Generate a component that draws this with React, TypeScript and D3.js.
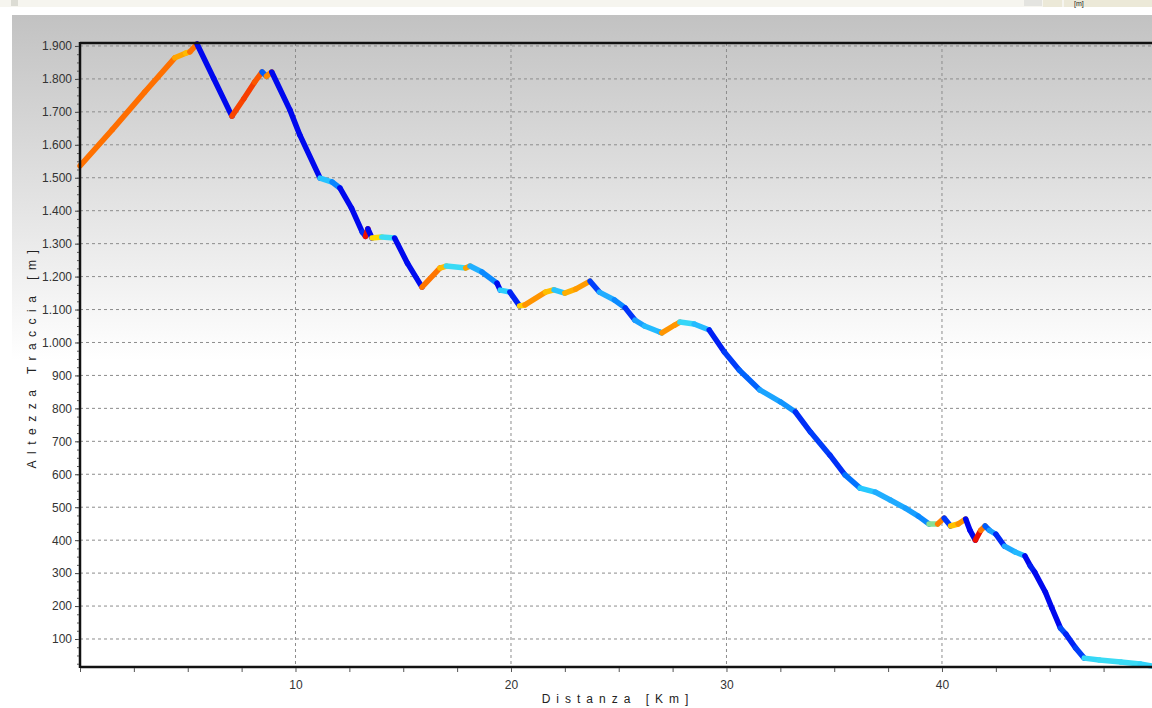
import React, { useEffect, useRef } from 'react';
import * as d3 from 'd3';

// track profile
const distKm = [0, 1.5, 3, 4.4, 4.9, 5.1, 5.43, 6.2, 7.05, 7.6, 8.1, 8.45, 8.65, 8.9, 9.74, 10.2, 11.14, 11.7, 12.06, 12.6, 13.1, 13.25, 13.36, 13.55, 14.0, 14.6, 15.2, 15.87, 16.7, 17.0, 17.9, 18.1, 18.65, 19.35, 19.5, 19.95, 20.4, 20.65, 21.6, 22.0, 22.5, 23.0, 23.67, 24.1, 24.8, 25.3, 25.75, 26.2, 26.9, 27.0, 27.6, 27.84, 28.5, 29.2, 29.9, 30.6, 31.55, 32.5, 33.2, 33.9, 34.8, 35.5, 36.2, 36.9, 37.6, 38.3, 38.9, 39.4, 39.8, 40.1, 40.4, 40.75, 41.1, 41.3, 41.55, 41.8, 42.0, 42.2, 42.5, 42.9, 43.4, 43.85, 44.1, 44.3, 44.8, 45.1, 45.5, 45.75, 46.2, 46.6, 47.3, 48.3, 49.2, 49.75];
const altM = [1536, 1646, 1760, 1864, 1878, 1882, 1906, 1802, 1687, 1740, 1790, 1821, 1808, 1821, 1706, 1630, 1499, 1487, 1469, 1408, 1335, 1322, 1345, 1317, 1320, 1317, 1240, 1168, 1226, 1232, 1226, 1232, 1214, 1180, 1159, 1153, 1111, 1114, 1153, 1160, 1150, 1162, 1186, 1153, 1129, 1105, 1068, 1050, 1032, 1029, 1053, 1062, 1056, 1038, 971, 916, 856, 820, 789, 728, 658, 598, 558, 546, 522, 497, 473, 449, 449, 467, 443, 449, 464, 430, 400, 430, 443, 430, 418, 382, 364, 352, 322, 303, 242, 194, 133, 115, 73, 42, 36, 30, 24, 18];

const xTickLabels = [10, 20, 30, 40];
const yTickValues = d3.range(100, 2000, 100);

// slope (%) -> colour, like the jet-ish scale of the original program
const slopeStops = [-11, -8, -5.5, -3.5, -1.5, -0.3, 0.5, 3, 8, 12];
const slopeColors = ['#0008ee', '#0038fa', '#0078ff', '#20acff', '#28ccff', '#40e0f0', '#ffe000', '#ffa000', '#ff6a00', '#ee1000'];

const W = 1152;
const H = 708;
const left = 80;
const top = 43;
const right = 1151;
const bottom = 667;
const font = 'Liberation Sans, Arial, sans-serif';

const fmt = (v: number) => d3.format(',')(v).replace(/,/g, '.');

const App = () => {
  const ref = useRef<SVGSVGElement>(null);

  useEffect(() => {
    const svg = d3.select(ref.current);
    svg.selectAll('*').remove();

    const x = d3.scaleLinear().domain([0, 49.7]).range([left, right]);
    const y = d3.scaleLinear().domain([15, 1909]).range([bottom, top]);
    const color = d3.scaleLinear<string>().domain(slopeStops).range(slopeColors).clamp(true);

    // background gradient grey -> white
    const defs = svg.append('defs');
    const grad = defs.append('linearGradient')
      .attr('id', 'bg')
      .attr('gradientUnits', 'userSpaceOnUse')
      .attr('x1', 0).attr('y1', 15).attr('x2', 0).attr('y2', 360);
    grad.append('stop').attr('offset', 0).attr('stop-color', '#c2c2c2');
    grad.append('stop').attr('offset', 1).attr('stop-color', '#ffffff');

    svg.append('rect').attr('width', W).attr('height', H).attr('fill', '#fff');

    // toolbar strip on top
    svg.append('rect').attr('x', 0).attr('y', 0).attr('width', W).attr('height', 7).attr('fill', '#f6f5ef');
    svg.append('rect').attr('x', 11).attr('y', 0).attr('width', 7).attr('height', 6).attr('fill', '#dcdcd4');
    svg.append('rect').attr('x', 1024).attr('y', 0).attr('width', 18).attr('height', 6).attr('fill', '#e4e4e0');
    svg.append('rect').attr('x', 1043).attr('y', 0).attr('width', 19).attr('height', 7).attr('fill', '#ece9d8');
    svg.append('rect').attr('x', 1064).attr('y', 0).attr('width', 88).attr('height', 7).attr('fill', '#ece9d8');
    svg.append('text').attr('x', 1074).attr('y', 6)
      .attr('font-family', font).attr('font-size', 7).attr('fill', '#222')
      .text('[m]');

    // main panel
    svg.append('rect').attr('x', 12).attr('y', 15).attr('width', W - 12).attr('height', H - 15).attr('fill', 'url(#bg)');

    const g = svg.append('g');

    // grid
    g.selectAll('.hgrid').data(yTickValues).enter().append('line')
      .attr('x1', left).attr('x2', W)
      .attr('y1', d => y(d)).attr('y2', d => y(d))
      .attr('stroke', '#8c8c8c').attr('stroke-width', 1).attr('stroke-dasharray', '3,3');
    g.selectAll('.vgrid').data(xTickLabels).enter().append('line')
      .attr('x1', d => x(d)).attr('x2', d => x(d))
      .attr('y1', top).attr('y2', bottom)
      .attr('stroke', '#8c8c8c').attr('stroke-width', 1).attr('stroke-dasharray', '3,3');

    // the profile, one segment per step coloured by slope
    const segs = d3.range(distKm.length - 1).map(i => ({
      x0: distKm[i], y0: altM[i], x1: distKm[i + 1], y1: altM[i + 1],
      s: (altM[i + 1] - altM[i]) / ((distKm[i + 1] - distKm[i]) * 10)
    }));
    g.selectAll('.seg').data(segs).enter().append('line')
      .attr('x1', d => x(d.x0)).attr('y1', d => y(d.y0))
      .attr('x2', d => x(d.x1)).attr('y2', d => y(d.y1))
      .attr('stroke', d => color(d.s))
      .attr('stroke-width', 5.5)
      .attr('stroke-linecap', 'round');

    // frame
    g.append('line').attr('x1', left).attr('x2', W).attr('y1', top).attr('y2', top).attr('stroke', '#111').attr('stroke-width', 2.5);
    g.append('line').attr('x1', left).attr('x2', W).attr('y1', bottom).attr('y2', bottom).attr('stroke', '#111').attr('stroke-width', 2.5);
    g.append('line').attr('x1', left).attr('x2', left).attr('y1', top - 1).attr('y2', bottom + 1).attr('stroke', '#111').attr('stroke-width', 2.5);

    // y axis
    const yAxis = d3.axisLeft(y).tickValues(yTickValues).tickSize(4).tickPadding(3).tickFormat(d => fmt(d as number));
    const ya = g.append('g').attr('transform', `translate(${left - 1},0)`).call(yAxis);
    ya.select('.domain').remove();
    ya.selectAll('line').attr('stroke', '#444');
    ya.selectAll('text').attr('font-family', font).attr('font-size', 12).attr('fill', '#333');
    const yMinor = d3.axisLeft(y).tickValues(d3.range(25, 1909, 25)).tickSize(2).tickFormat(() => '');
    const ym = g.append('g').attr('transform', `translate(${left - 1},0)`).call(yMinor);
    ym.select('.domain').remove();
    ym.selectAll('line').attr('stroke', '#555');

    // x axis
    const xAxis = d3.axisBottom(x).tickValues(d3.range(0, 50, 2.5)).tickSize(4).tickPadding(8)
      .tickFormat(d => xTickLabels.includes(d as number) ? String(d) : '');
    const xa = g.append('g').attr('transform', `translate(0,${bottom + 1})`).call(xAxis);
    xa.select('.domain').remove();
    xa.selectAll('line').attr('stroke', '#555');
    xa.selectAll('text').attr('font-family', font).attr('font-size', 12).attr('fill', '#333');

    // titles
    svg.append('text')
      .attr('x', 618).attr('y', 703)
      .attr('text-anchor', 'middle')
      .attr('font-family', font).attr('font-size', 12)
      .attr('letter-spacing', 6).attr('fill', '#222')
      .text('Distanza [Km]');
    svg.append('text')
      .attr('transform', 'translate(36,356) rotate(-90)')
      .attr('text-anchor', 'middle')
      .attr('font-family', font).attr('font-size', 12)
      .attr('letter-spacing', 6.5).attr('fill', '#222')
      .text('Altezza Traccia [m]');
  }, []);

  return (
    <svg ref={ref} width={W} height={H} style={{ position: 'absolute', left: 0, top: 0, display: 'block' }} />
  );
};

export default App;
